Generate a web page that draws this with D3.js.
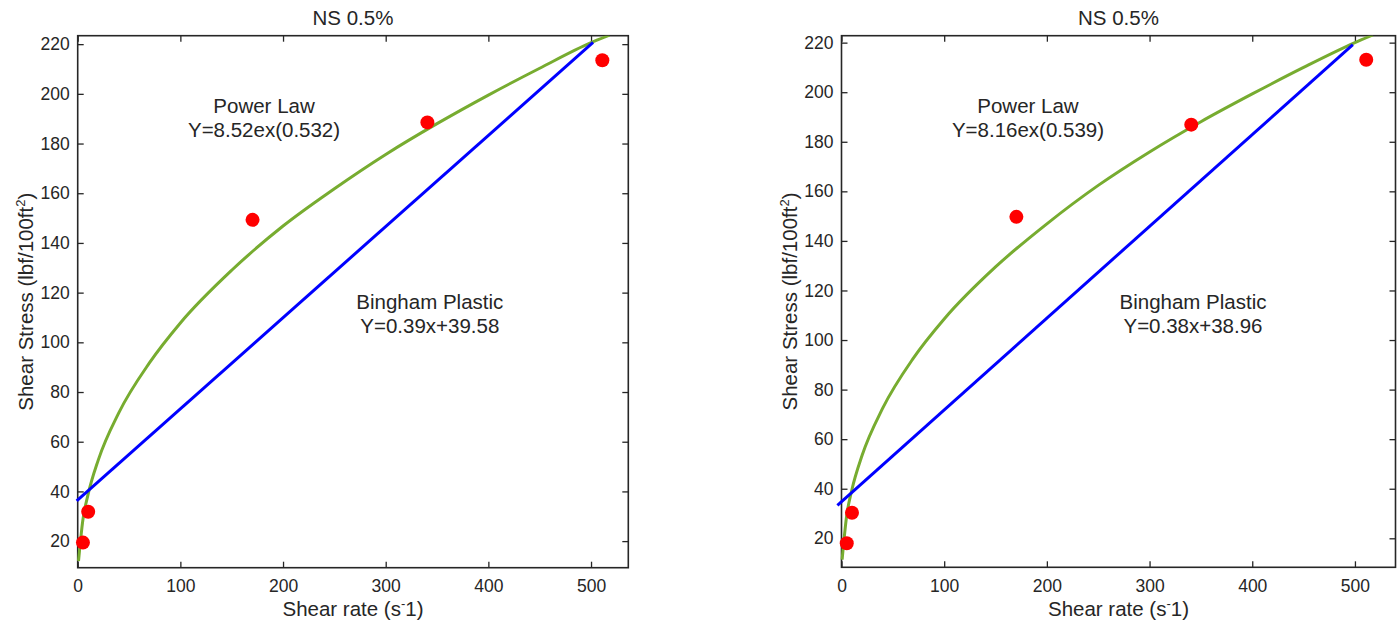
<!DOCTYPE html>
<html>
<head>
<meta charset="utf-8">
<script src="https://cdn.jsdelivr.net/npm/d3@7"></script>
<style>
  html, body { margin: 0; padding: 0; background: #fff; }
  svg { display: block; }
  text { font-family: "Liberation Sans", Arial, Helvetica, sans-serif; fill: #262626; }
</style>
</head>
<body>
<svg id="chart" width="1400" height="628"></svg>
<script>
// ---------- data ----------
const panelTitles = ["NS 0.5%", "NS 0.5%"];
const shearRate = [5.11, 10.22, 170.3, 340.6, 511];
const stressLeft = [19.4, 31.8, 149.3, 188.5, 213.5];
const stressRight = [18.0, 30.3, 149.7, 186.9, 213.1];

const powerXLeft  = [0.8, 5, 10, 20, 40, 70, 100, 150, 200, 250, 300, 350, 400, 450, 500, 518];
const powerYLeft  = [12.0, 28.4, 38.6, 52.6, 71.6, 91.8, 107.8, 129.0, 146.8, 161.8, 175.6, 188.0, 199.5, 210.3, 220.6, 223.6];
const powerXRight = [0.6, 5, 10, 20, 40, 70, 100, 150, 200, 250, 300, 350, 400, 450, 500, 517.5];
const powerYRight = [11.4, 29.0, 39.4, 53.4, 72.4, 92.7, 108.5, 129.5, 146.9, 162.4, 175.9, 188.1, 199.3, 210.0, 220.0, 223.1];

const binghamXLeft  = [-1, 502];
const binghamYLeft  = [36.2, 220.7];
const binghamXRight = [-4, 498];
const binghamYRight = [33.3, 219.2];

const powerLabels   = [["Power Law", "Y=8.52ex(0.532)"], ["Power Law", "Y=8.16ex(0.539)"]];
const binghamLabels = [["Bingham Plastic", "Y=0.39x+39.58"], ["Bingham Plastic", "Y=0.38x+38.96"]];
const powerLabelPos   = [[181.5, 195.2, 185.6], [181.6, 194.5, 184.8]];
const binghamLabelPos = [[343, 116.4, 106.7], [342.3, 115.4, 105.7]];

const xTicks = [0, 100, 200, 300, 400, 500];
const yTicks = [20, 40, 60, 80, 100, 120, 140, 160, 180, 200, 220];
const xDomains = [[0, 536.3], [0, 539.5]];
const yDomains = [[9.3, 223.4], [8.3, 222.8]];

// ---------- layout ----------
const panels = [
  { left: 77.7, right: 628.3, top: 35.7, bottom: 567.7 },
  { left: 841.5, right: 1395.5, top: 35.7, bottom: 567.3 }
];

const seriesData = [
  { pts: stressLeft, px: powerXLeft, py: powerYLeft, bx: binghamXLeft, by: binghamYLeft },
  { pts: stressRight, px: powerXRight, py: powerYRight, bx: binghamXRight, by: binghamYRight }
];

const svg = d3.select("#chart");
const axColor = "#262626";
const fontFam = '"Liberation Sans", Arial, sans-serif';
const labelSize = 20.5;

panels.forEach((p, i) => {
  const x = d3.scaleLinear().domain(xDomains[i]).range([p.left, p.right]);
  const y = d3.scaleLinear().domain(yDomains[i]).range([p.bottom, p.top]);
  const g = svg.append("g");
  const d = seriesData[i];

  const clipId = "clip" + i;
  svg.append("defs").append("clipPath").attr("id", clipId)
    .append("rect")
    .attr("x", p.left - 8).attr("y", p.top)
    .attr("width", p.right - p.left + 8).attr("height", p.bottom - p.top);

  const tickLen = 6;
  const axB = d3.axisBottom(x).tickValues(xTicks).tickSizeInner(-tickLen).tickSizeOuter(0).tickPadding(12);
  const axT = d3.axisTop(x).tickValues(xTicks).tickSizeInner(-tickLen).tickSizeOuter(0).tickFormat("");
  const axL = d3.axisLeft(y).tickValues(yTicks).tickSizeInner(-tickLen).tickSizeOuter(0).tickPadding(8);
  const axR = d3.axisRight(y).tickValues(yTicks).tickSizeInner(-tickLen).tickSizeOuter(0).tickFormat("");

  const gB = g.append("g").attr("transform", `translate(0,${p.bottom})`).call(axB);
  const gT = g.append("g").attr("transform", `translate(0,${p.top})`).call(axT);
  const gL = g.append("g").attr("transform", `translate(${p.left},0)`).call(axL);
  const gR = g.append("g").attr("transform", `translate(${p.right},0)`).call(axR);
  [gB, gT, gL, gR].forEach(a => {
    a.select(".domain").remove();
    a.selectAll(".tick line").attr("stroke", axColor).attr("stroke-width", 1.3);
    a.selectAll(".tick text").attr("fill", axColor).style("font-size", "17.5px")
      .style("font-family", fontFam);
  });

  g.append("rect")
    .attr("x", p.left).attr("y", p.top)
    .attr("width", p.right - p.left).attr("height", p.bottom - p.top)
    .attr("fill", "none").attr("stroke", axColor).attr("stroke-width", 1.6);

  const powerPts = d.px.map((v, k) => [v, d.py[k]]);
  g.append("path")
    .datum(powerPts)
    .attr("clip-path", `url(#${clipId})`)
    .attr("fill", "none")
    .attr("stroke", "#77AC30")
    .attr("stroke-width", 3)
    .attr("d", d3.line().x(q => x(q[0])).y(q => y(q[1])).curve(d3.curveMonotoneX));

  const bPts = d.bx.map((v, k) => [v, d.by[k]]);
  g.append("path")
    .datum(bPts)
    .attr("fill", "none")
    .attr("stroke", "#0000FF")
    .attr("stroke-width", 3)
    .attr("d", d3.line().x(q => x(q[0])).y(q => y(q[1])));

  g.selectAll("circle.pt")
    .data(shearRate.map((v, k) => [v, d.pts[k]]))
    .enter().append("circle")
    .attr("class", "pt")
    .attr("cx", q => x(q[0])).attr("cy", q => y(q[1]))
    .attr("r", 7)
    .attr("fill", "#FF0000");

  g.append("text")
    .attr("x", (p.left + p.right) / 2).attr("y", 25)
    .attr("text-anchor", "middle")
    .style("font-size", labelSize + "px")
    .attr("fill", "#000")
    .text(panelTitles[i]);

  const xl = g.append("text")
    .attr("x", (p.left + p.right) / 2).attr("y", 616)
    .attr("text-anchor", "middle")
    .style("font-size", labelSize + "px")
    .attr("fill", axColor);
  xl.append("tspan").text("Shear rate (s");
  xl.append("tspan").attr("dy", -8).style("font-size", "13px").text("-");
  xl.append("tspan").attr("dy", 8).text("1)");

  const yl = g.append("text")
    .attr("transform", `translate(${p.left - 45},${(p.top + p.bottom) / 2}) rotate(-90)`)
    .attr("text-anchor", "middle")
    .style("font-size", labelSize + "px")
    .attr("fill", axColor);
  yl.append("tspan").text("Shear Stress (lbf/100ft");
  yl.append("tspan").attr("dy", -8).style("font-size", "13px").text("2");
  yl.append("tspan").attr("dy", 8).text(")");

  const pl = powerLabelPos[i], bl = binghamLabelPos[i];
  [[powerLabels[i][0], pl[0], pl[1]], [powerLabels[i][1], pl[0], pl[2]],
   [binghamLabels[i][0], bl[0], bl[1]], [binghamLabels[i][1], bl[0], bl[2]]].forEach(t => {
    g.append("text")
      .attr("x", x(t[1])).attr("y", y(t[2]))
      .attr("text-anchor", "middle")
      .attr("dominant-baseline", "central")
      .style("font-size", labelSize + "px")
      .attr("fill", "#000")
      .text(t[0]);
  });
});
</script>
</body>
</html>
